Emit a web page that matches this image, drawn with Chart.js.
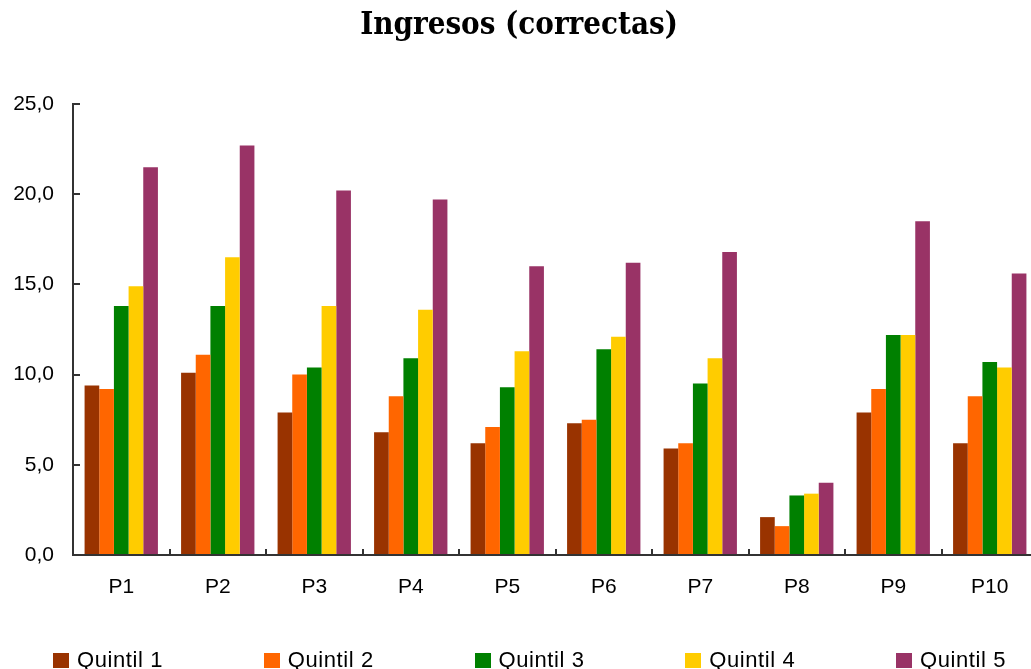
<!DOCTYPE html>
<html>
<head>
<meta charset="utf-8">
<title>Ingresos (correctas)</title>
<script src="https://cdn.jsdelivr.net/npm/chart.js@4/dist/chart.umd.min.js"></script>
<style>
  html, body { margin: 0; padding: 0; overflow: hidden; background: #fff; }
  #wrap { position: relative; width: 1038px; height: 669px; }
  #legend {
    position: absolute; left: 53px; top: 649px; display: flex;
    font-family: "Liberation Sans", Arial, sans-serif; font-size: 22px;
    line-height: 22px; color: #000; letter-spacing: 0.6px; white-space: nowrap;
  }
  #legend .item { position: relative; width: 210.75px; height: 22px; }
  #legend .swatch { position: absolute; left: 0; top: 4px; width: 16px; height: 15px; }
  #legend .label { position: absolute; left: 24px; top: 0; }
</style>
</head>
<body>
<div id="wrap">
  <canvas id="chart"></canvas>
  <div id="legend"></div>
</div>
<script>
// Periods on the x axis
const categories = ['P1', 'P2', 'P3', 'P4', 'P5', 'P6', 'P7', 'P8', 'P9', 'P10'];

// Income by quintile
const seriesNames = ['Quintil 1', 'Quintil 2', 'Quintil 3', 'Quintil 4', 'Quintil 5'];
const quintil1 = [9.4, 10.1, 7.9, 6.8, 6.2, 7.3, 5.9, 2.1, 7.9, 6.2];
const quintil2 = [9.2, 11.1, 10.0, 8.8, 7.1, 7.5, 6.2, 1.6, 9.2, 8.8];
const quintil3 = [13.8, 13.8, 10.4, 10.9, 9.3, 11.4, 9.5, 3.3, 12.2, 10.7];
const quintil4 = [14.9, 16.5, 13.8, 13.6, 11.3, 12.1, 10.9, 3.4, 12.2, 10.4];
const quintil5 = [21.5, 22.7, 20.2, 19.7, 16.0, 16.2, 16.8, 4.0, 18.5, 15.6];

// Value axis
const yMin = 0;
const yMax = 25;
const yStep = 5;

const seriesValues = [quintil1, quintil2, quintil3, quintil4, quintil5];
const seriesColors = ['#993300', '#FF6600', '#008000', '#FFCC00', '#993366'];

const axisColor = '#333333';
const tickFont = { family: 'Liberation Sans', size: 21 };

// Legend rendered as HTML below the plot, fed by Chart.js legend items
const htmlLegend = {
  id: 'htmlLegend',
  afterUpdate(chart) {
    const box = document.getElementById('legend');
    box.innerHTML = '';
    const items = Chart.defaults.plugins.legend.labels.generateLabels(chart);
    items.forEach(it => {
      const item = document.createElement('div');
      item.className = 'item';
      const sw = document.createElement('span');
      sw.className = 'swatch';
      sw.style.background = it.fillStyle;
      const lb = document.createElement('span');
      lb.className = 'label';
      lb.textContent = it.text;
      item.appendChild(sw);
      item.appendChild(lb);
      box.appendChild(item);
    });
  }
};

new Chart(document.getElementById('chart'), {
  type: 'bar',
  data: {
    labels: categories,
    datasets: seriesNames.map((name, i) => ({
      label: name,
      data: seriesValues[i],
      backgroundColor: seriesColors[i],
      borderWidth: 0,
      categoryPercentage: 0.76,
      barPercentage: 1.0
    }))
  },
  options: {
    responsive: true,
    maintainAspectRatio: false,
    animation: false,
    layout: { padding: { left: 0, right: 0, top: 0, bottom: 0 } },
    plugins: {
      legend: { display: false },
      tooltip: { enabled: false },
      title: {
        display: true,
        text: 'Ingresos (correctas)',
        color: '#000',
        font: { family: "'DejaVu Serif Condensed', 'DejaVu Serif'", size: 31, weight: 'bold' },
        padding: { top: 7.5, bottom: 59.3 }
      }
    },
    scales: {
      x: {
        grid: {
          display: true, drawOnChartArea: false, drawTicks: true,
          tickLength: -6, color: axisColor, lineWidth: 2, offset: true
        },
        border: { display: true, color: axisColor, width: 2 },
        ticks: { color: '#000', font: tickFont, padding: 26, maxRotation: 0, autoSkip: false },
        afterFit(scale) { scale.height = 114; }
      },
      y: {
        min: yMin,
        max: yMax,
        grid: {
          display: true, drawOnChartArea: false, drawTicks: true,
          tickLength: -7, color: axisColor, lineWidth: 2
        },
        border: { display: true, color: axisColor, width: 2 },
        ticks: {
          stepSize: yStep,
          color: '#000',
          font: tickFont,
          padding: 26,
          callback: v => v.toFixed(1).replace('.', ',')
        },
        afterFit(scale) { scale.width = 73; }
      }
    }
  },
  plugins: [htmlLegend]
});
</script>
</body>
</html>
